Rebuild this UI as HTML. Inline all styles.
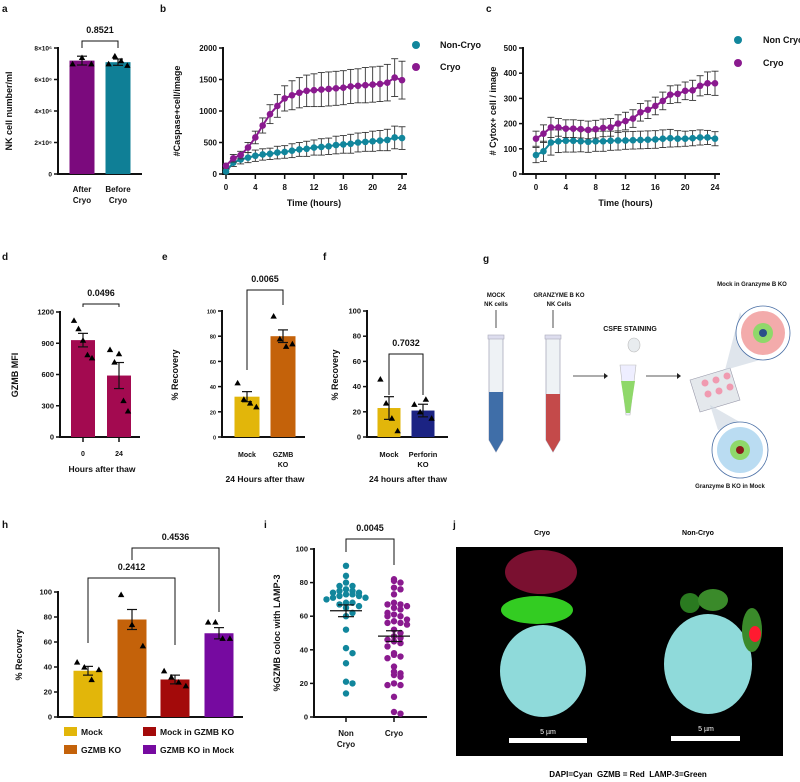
<!DOCTYPE html>
<html><head><meta charset="utf-8"><style>
html,body{margin:0;padding:0;background:#fff;}
svg{display:block;font-family:"Liberation Sans",Arial,sans-serif;font-weight:bold;}
</style></head><body>
<svg id="fig" width="800" height="782" viewBox="0 0 800 782" xmlns="http://www.w3.org/2000/svg">
<!-- panel letters -->
<g font-size="10" fill="#111">
<text x="2" y="12">a</text><text x="160" y="12">b</text><text x="486" y="12">c</text>
<text x="2" y="260">d</text><text x="162" y="260">e</text><text x="323" y="260">f</text><text x="483" y="262">g</text>
<text x="2" y="528">h</text><text x="264" y="528">i</text><text x="453" y="528">j</text>
</g>
<!-- panel g illustration -->
<g font-size="6" text-anchor="middle" fill="#111">
<text x="496" y="297">MOCK</text><text x="496" y="306">NK cells</text>
<text x="559" y="297">GRANZYME B KO</text><text x="559" y="306">NK Cells</text>
<line x1="496" y1="310" x2="496" y2="328" stroke="#222" stroke-width="0.8"/>
<line x1="553" y1="310" x2="553" y2="328" stroke="#222" stroke-width="0.8"/>
<g>
<path d="M489,338 L503,338 L503,440 L496,452 L489,440 Z" fill="#eef2f5" stroke="#aab" stroke-width="0.8"/>
<path d="M489,392 L503,392 L503,440 L496,452 L489,440 Z" fill="#3f6ea8"/>
<rect x="488" y="335" width="16" height="4" fill="#dde" stroke="#aab" stroke-width="0.6"/></g>
<g>
<path d="M546,338 L560,338 L560,440 L553,452 L546,440 Z" fill="#eef2f5" stroke="#aab" stroke-width="0.8"/>
<path d="M546,394 L560,394 L560,440 L553,452 L546,440 Z" fill="#c44a4a"/>
<rect x="545" y="335" width="16" height="4" fill="#dde" stroke="#aab" stroke-width="0.6"/></g>
<line x1="573" y1="376" x2="604" y2="376" stroke="#222" stroke-width="0.8"/><path d="M604,373 L608,376 L604,379Z" fill="#222"/>
<text x="630" y="331" font-size="7">CSFE STAINING</text>
<g>
<ellipse cx="634" cy="345" rx="6" ry="7" fill="#e8ecef" stroke="#bbb" stroke-width="0.6"/>
<path d="M620,365 L636,365 L630,415 L626,415 Z" fill="#eef" stroke="#bbb" stroke-width="0.6"/>
<path d="M621,381 L635,381 L630,413 L626,413 Z" fill="#8fd86a"/></g>
<line x1="646" y1="376" x2="677" y2="376" stroke="#222" stroke-width="0.8"/><path d="M677,373 L681,376 L677,379Z" fill="#222"/>
<g>
<path d="M690,380 L730,368 L740,400 L700,412 Z" fill="#e4e8ec" stroke="#99a" stroke-width="0.6"/>
<circle cx="705" cy="383" r="3.5" fill="#f09ab0"/><circle cx="716" cy="380" r="3.5" fill="#f09ab0"/><circle cx="727" cy="376" r="3.5" fill="#f09ab0"/>
<circle cx="708" cy="394" r="3.5" fill="#f09ab0"/><circle cx="719" cy="391" r="3.5" fill="#f09ab0"/><circle cx="730" cy="387" r="3.5" fill="#f09ab0"/></g>
<path d="M725,370 L740,312 L760,360 Z" fill="#c9d3e0" opacity="0.6"/>
<path d="M710,405 L718,430 L745,425 Z" fill="#c9d3e0" opacity="0.6"/>
<g>
<circle cx="763" cy="333" r="27" fill="#fff" stroke="#4a6fa5" stroke-width="0.8"/>
<circle cx="763" cy="333" r="22" fill="#e88" opacity="0.7"/>
<circle cx="763" cy="333" r="10" fill="#8fd86a"/><circle cx="763" cy="333" r="4" fill="#2b4f8a"/></g>
<text x="752" y="286">Mock in Granzyme B KO</text>
<g>
<circle cx="740" cy="450" r="28" fill="#fff" stroke="#4a6fa5" stroke-width="0.8"/>
<circle cx="740" cy="450" r="23" fill="#a9d3ef" opacity="0.8"/>
<circle cx="740" cy="450" r="10" fill="#8fd86a"/><circle cx="740" cy="450" r="4" fill="#8a1a1a"/></g>
<text x="730" y="488">Granzyme B KO in Mock</text>
</g>
<!-- panel j image -->
<g>
<rect x="456" y="547" width="327" height="209" fill="#000"/>
<ellipse cx="541" cy="572" rx="36" ry="22" fill="#7a1030"/>
<ellipse cx="537" cy="610" rx="36" ry="14" fill="#33cc22"/>
<ellipse cx="543" cy="671" rx="43" ry="46" fill="#8fdada"/>
<ellipse cx="708" cy="664" rx="44" ry="50" fill="#8fdada"/>
<ellipse cx="690" cy="603" rx="10" ry="10" fill="#2a7a20"/>
<ellipse cx="713" cy="600" rx="15" ry="11" fill="#3a8a2a"/>
<ellipse cx="752" cy="630" rx="10" ry="22" fill="#3a8a2a"/>
<ellipse cx="755" cy="634" rx="6" ry="8" fill="#ff1a30"/>
<rect x="509" y="738" width="78" height="5" fill="#fff"/><rect x="671" y="736" width="69" height="5" fill="#fff"/>
<text x="548" y="734" font-size="7" font-weight="normal" fill="#fff" text-anchor="middle">5 µm</text>
<text x="706" y="731" font-size="7" font-weight="normal" fill="#fff" text-anchor="middle">5 µm</text>
</g>
<text x="542" y="535" font-size="7" text-anchor="middle">Cryo</text>
<text x="698" y="535" font-size="7" text-anchor="middle">Non-Cryo</text>
<text x="628" y="777" font-size="8" text-anchor="middle">DAPI=Cyan&#160;&#160;GZMB = Red&#160;&#160;LAMP-3=Green</text>
</svg>
<script>
// ---- data ----
const hours = [0,1,2,3,4,5,6,7,8,9,10,11,12,13,14,15,16,17,18,19,20,21,22,23,24];
const bCryo = [130,250,300,420,580,770,950,1080,1200,1250,1290,1320,1330,1340,1350,1360,1370,1390,1400,1410,1420,1430,1450,1530,1490];
const bCryoErr = [40,60,60,80,100,120,150,180,200,230,240,250,260,270,270,270,270,270,270,280,280,280,290,300,300];
const bNon = [40,180,230,260,290,310,320,340,350,370,390,400,420,430,440,460,470,480,500,510,520,530,540,580,570];
const bNonErr = [30,60,70,80,90,90,90,100,100,110,110,120,120,130,130,140,140,150,150,150,160,160,170,180,180];
const cCryo = [140,160,185,185,180,180,178,175,178,183,185,200,210,220,245,255,270,290,315,318,330,332,350,360,360];
const cCryoErr = [30,35,40,35,35,35,35,35,35,35,35,35,35,35,35,35,35,35,35,35,35,40,40,45,48];
const cNon = [75,90,125,130,132,132,130,128,130,130,132,133,133,134,135,136,137,140,142,140,140,142,145,145,140];
const cNonErr = [30,40,50,45,45,45,42,42,40,40,38,38,35,35,35,35,35,35,35,32,30,30,30,28,28];
const aCats = ["After Cryo","Before Cryo"];
const aVals = [7.2e6,7.1e6];
const aErr = [0.28e6,0.2e6];
const aPts = [[7.0e6,7.4e6,7.0e6],[7.0e6,7.5e6,7.2e6,6.9e6]];
const dCats = ["0","24"];
const dVals = [930,590];
const dErr = [65,125];
const dPts = [[1120,1040,930,790,760],[840,720,800,350,250]];
const eCats = ["Mock","GZMB KO"];
const eVals = [32,80];
const eErr = [4,5];
const ePts = [[43,30,27,24],[96,78,72,74]];
const fCats = ["Mock","Perforin KO"];
const fVals = [23,21];
const fErr = [9,5];
const fPts = [[46,27,15,5],[26,20,30,15]];
const hCats = ["Mock","GZMB KO","Mock in GZMB KO","GZMB KO in Mock"];
const hVals = [37,78,30,67];
const hErr = [3.5,8,3.5,4.5];
const hPts = [[44,40,30,38],[98,74,57],[37,32,28,25],[76,76,63,63]];
const iNon = [90,84,80,78,78,76,75,75,74,74,73,73,72,72,71,71,70,68,68,67,66,65,62,60,52,41,38,32,21,20,14];
const iCryo = [82,81,80,77,76,73,68,67,67,66,65,64,62,61,60,60,58,57,56,56,55,52,50,48,47,46,45,44,42,38,37,36,35,30,27,26,25,24,20,19,19,12,3,2];
const pvals = ["0.8521","0.0496","0.0065","0.7032","0.2412","0.4536","0.0045"];

const svg = document.getElementById('fig');
const NS = 'http://www.w3.org/2000/svg';
function mk(tag, attrs, name, parent) {
  const el = document.createElementNS(NS, tag);
  for (const k in attrs) el.setAttribute(k, attrs[k]);
  
  
  (parent || svg).appendChild(el);
  return el;
}
function txt(x, y, s, size, name, anchor, extra) {
  const t = mk('text', Object.assign({x:x, y:y, 'font-size':size, 'text-anchor':anchor||'middle', fill:'#111'}, extra||{}), name);
  t.textContent = s;
  return t;
}
function lin(x1,y1,x2,y2,w,name,col){ return mk('line',{x1:x1,y1:y1,x2:x2,y2:y2,stroke:col||'#111','stroke-width':w},name); }
function tri(cx,cy,name){ return mk('path',{d:`M${cx-3.2},${cy+2.6} L${cx+3.2},${cy+2.6} L${cx},${cy-3}Z`,fill:'#000'},name); }
function yaxis(ax, y0, y1, max, ticks, labels, fs, name, xEnd) {
  const sc = v => y0 - (v/max)*(y0-y1);
  lin(ax, y0+1, ax, y1-1, 2, name+'-y-axis');
  lin(ax-1, y0, xEnd, y0, 2, name+'-x-axis');
  ticks.forEach((v,i)=>{
    lin(ax-4, sc(v), ax, sc(v), 1.5, name+'-y-tick');
    txt(ax-6, sc(v)+2.5, labels[i], fs, name+'-y-tick-label', 'end');
  });
  return sc;
}
function bars(sc, y0, xs, w, vals, errs, pts, cols, name) {
  vals.forEach((v,i)=>{
    const cx = xs[i];
    mk('rect',{x:cx-w/2,y:sc(v),width:w,height:y0-sc(v),fill:cols[i]},name+'-bar-'+i);
    lin(cx, sc(v+errs[i]), cx, sc(v-errs[i]), 1.2, name+'-error-bar');
    lin(cx-5, sc(v+errs[i]), cx+5, sc(v+errs[i]), 1.2, name+'-error-cap');
    lin(cx-5, sc(v-errs[i]), cx+5, sc(v-errs[i]), 1.2, name+'-error-cap');
    const n = pts[i].length;
    pts[i].forEach((p,j)=>{ tri(cx + (n>1 ? (j/(n-1)-0.5)*w*0.75 : 0), sc(p), name+'-point'); });
  });
}
function bracket(x1, y1a, x2, y2a, top, label, name) {
  mk('path',{d:`M${x1},${y1a} L${x1},${top} L${x2},${top} L${x2},${y2a}`,fill:'none',stroke:'#111','stroke-width':1},name+'-bracket');
  txt((x1+x2)/2, top-8, label, 9, name+'-p-value');
}
function rotTitle(x, y, s, name, fs) {
  txt(x, y, s, fs||9, name, 'middle', {transform:`rotate(-90 ${x} ${y})`});
}

// ---- panel a ----
(function(){
  const ax=58, y0=174, y1=48;
  const sc = yaxis(ax,y0,y1,8e6,[0,2e6,4e6,6e6,8e6],['0','2×10⁶','4×10⁶','6×10⁶','8×10⁶'],6.5,'panel-a',142);
  bars(sc,y0,[82,118],25,aVals,aErr,aPts,['#7b0a7d','#0f7f96'],'panel-a');
  aCats.forEach((c,i)=>{ const p=c.split(' '); txt([82,118][i],192,p[0],8,'panel-a-x-label'); txt([82,118][i],203,p[1],8,'panel-a-x-label'); });
  rotTitle(12,111,'NK cell number/ml','panel-a-y-title');
  bracket(82,48,118,48,41,pvals[0],'panel-a');
})();

// ---- line panels ----
function linePanel(ax, x0, x24, y0, y1, max, tickStep, series, name, ytitle, ytx) {
  const sx = h => x0 + (h/24)*(x24-x0);
  const sy = v => y0 - (v/max)*(y0-y1);
  lin(ax, y0+1, ax, y1-1, 2, name+'-y-axis');
  lin(ax-1, y0, x24+5, y0, 2, name+'-x-axis');
  for (let v=0; v<=max; v+=tickStep){ lin(ax-4,sy(v),ax,sy(v),1.5,name+'-y-tick'); txt(ax-6,sy(v)+3,String(v),8,name+'-y-tick-label','end'); }
  for (let h=0; h<=24; h+=4){ lin(sx(h),y0,sx(h),y0+5,1.5,name+'-x-tick'); txt(sx(h),y0+16,String(h),8,name+'-x-tick-label'); }
  txt((x0+x24)/2, y0+32, 'Time (hours)', 9, name+'-x-title');
  rotTitle(ytx, (y0+y1)/2, ytitle, name+'-y-title');
  series.forEach(s=>{
    s.v.forEach((v,i)=>{
      const x=sx(hours[i]);
      lin(x,sy(v+s.e[i]),x,sy(Math.max(0,v-s.e[i])),0.9,name+'-error-bar','#333');
      lin(x-3.5,sy(v+s.e[i]),x+3.5,sy(v+s.e[i]),0.9,name+'-error-cap','#333');
      lin(x-3.5,sy(Math.max(0,v-s.e[i])),x+3.5,sy(Math.max(0,v-s.e[i])),0.9,name+'-error-cap','#333');
    });
    mk('polyline',{points:s.v.map((v,i)=>sx(hours[i])+','+sy(v)).join(' '),fill:'none',stroke:s.c,'stroke-width':2},name+'-line-'+s.n);
    s.v.forEach((v,i)=>{ mk('circle',{cx:sx(hours[i]),cy:sy(v),r:3.3,fill:s.c},name+'-point-'+s.n); });
  });
}
linePanel(223,226,402,174,48,2000,500,[{v:bNon,e:bNonErr,c:'#11869c',n:'non-cryo'},{v:bCryo,e:bCryoErr,c:'#8a1a8f',n:'cryo'}],'panel-b','#Caspase+cell/image',180);
mk('circle',{cx:416,cy:45,r:4,fill:'#11869c'},'panel-b-legend-non-cryo-marker');
txt(440,48,'Non-Cryo',9,'panel-b-legend-non-cryo','start');
mk('circle',{cx:416,cy:67,r:4,fill:'#8a1a8f'},'panel-b-legend-cryo-marker');
txt(440,70,'Cryo',9,'panel-b-legend-cryo','start');
linePanel(523,536,715,174,48,500,100,[{v:cNon,e:cNonErr,c:'#11869c',n:'non-cryo'},{v:cCryo,e:cCryoErr,c:'#8a1a8f',n:'cryo'}],'panel-c','# Cytox+ cell / image',496);
mk('circle',{cx:738,cy:40,r:4,fill:'#11869c'},'panel-c-legend-non-cryo-marker');
txt(763,43,'Non Cryo',9,'panel-c-legend-non-cryo','start');
mk('circle',{cx:738,cy:63,r:4,fill:'#8a1a8f'},'panel-c-legend-cryo-marker');
txt(763,66,'Cryo',9,'panel-c-legend-cryo','start');

// ---- panel d ----
(function(){
  const ax=60,y0=437,y1=312;
  const sc=yaxis(ax,y0,y1,1200,[0,300,600,900,1200],['0','300','600','900','1200'],7.5,'panel-d',140);
  bars(sc,y0,[83,119],24,dVals,dErr,dPts,['#a30a50','#a30a50'],'panel-d');
  lin(83,y0,83,y0+5,1.5,'panel-d-x-tick'); lin(119,y0,119,y0+5,1.5,'panel-d-x-tick');
  dCats.forEach((c,i)=>txt([83,119][i],456,c,7,'panel-d-x-label'));
  txt(102,472,'Hours after thaw',8.5,'panel-d-x-title');
  rotTitle(18,375,'GZMB  MFI','panel-d-y-title');
  bracket(83,307,119,307,304,pvals[1],'panel-d');
  mk('path',{d:'M83,304 L83,307'},'x');
})();
// ---- panel e ----
(function(){
  const ax=222,y0=437,y1=311;
  const sc=yaxis(ax,y0,y1,100,[0,20,40,60,80,100],['0','20','40','60','80','100'],5.5,'panel-e',305);
  bars(sc,y0,[247,283],25,eVals,eErr,ePts,['#e2b60a','#c4620a'],'panel-e');
  txt(247,457,'Mock',7,'panel-e-x-label'); txt(283,457,'GZMB',7,'panel-e-x-label'); txt(283,467,'KO',7,'panel-e-x-label');
  txt(265,482,'24 Hours after thaw',8.5,'panel-e-x-title');
  rotTitle(178,375,'% Recovery','panel-e-y-title');
  bracket(247,370,283,305,290,pvals[2],'panel-e');
})();
// ---- panel f ----
(function(){
  const ax=367,y0=437,y1=311;
  const sc=yaxis(ax,y0,y1,100,[0,20,40,60,80,100],['0','20','40','60','80','100'],7.5,'panel-f',448);
  bars(sc,y0,[389,423],23,fVals,fErr,fPts,['#e2b60a','#1b2383'],'panel-f');
  txt(389,457,'Mock',7.5,'panel-f-x-label'); txt(423,457,'Perforin',7.5,'panel-f-x-label'); txt(423,467,'KO',7.5,'panel-f-x-label');
  txt(408,482,'24 hours after thaw',8.5,'panel-f-x-title');
  rotTitle(338,375,'% Recovery','panel-f-y-title');
  bracket(389,395,423,395,354,pvals[3],'panel-f');
})();
// ---- panel h ----
(function(){
  const ax=58,y0=717,y1=592;
  const sc=yaxis(ax,y0,y1,100,[0,20,40,60,80,100],['0','20','40','60','80','100'],7.5,'panel-h',243);
  const xs=[88,132,175,219], cols=['#e2b60a','#c4620a','#a30a0a','#760aa0'];
  bars(sc,y0,xs,29,hVals,hErr,hPts,cols,'panel-h');
  rotTitle(22,655,'% Recovery','panel-h-y-title');
  bracket(88,643,175,645,578,pvals[4],'panel-h');
  bracket(132,560,219,612,548,pvals[5],'panel-h');
  const lx=[64,64,143,143], ly=[728,746,728,746];
  hCats.forEach((c,i)=>{
    mk('rect',{x:lx[i],y:ly[i]-1,width:13,height:9,fill:cols[i]},'panel-h-legend-swatch');
    txt(lx[i]+17,ly[i]+7,c,8.5,'panel-h-legend-label','start');
  });
})();
// ---- panel i ----
(function(){
  const ax=314,y0=717,y1=549;
  const sc=yaxis(ax,y0,y1,100,[0,20,40,60,80,100],['0','20','40','60','80','100'],7.5,'panel-i',427);
  rotTitle(280,633,'%GZMB coloc with LAMP-3','panel-i-y-title');
  function swarm(vals,cx,col,name){
    const bins={};
    vals.forEach(v=>{ const b=Math.round(v/4); bins[b]=(bins[b]||0)+1; const k=bins[b]-1;
      const off = k===0?0:(k%2? 1:-1)*Math.ceil(k/2)*6.5;
      mk('circle',{cx:cx+off,cy:sc(v),r:3.2,fill:col},name); });
    const m=vals.reduce((a,b)=>a+b,0)/vals.length;
    let sd=Math.sqrt(vals.reduce((a,b)=>a+(b-m)*(b-m),0)/(vals.length-1))/Math.sqrt(vals.length);
    lin(cx-16,sc(m),cx+16,sc(m),1.3,name+'-mean');
    lin(cx,sc(m+sd),cx,sc(m-sd),1.2,name+'-sem');
    lin(cx-8,sc(m+sd),cx+8,sc(m+sd),1.2,name+'-sem-cap');
    lin(cx-8,sc(m-sd),cx+8,sc(m-sd),1.2,name+'-sem-cap');
  }
  swarm(iNon,346,'#11869c','panel-i-non-cryo-point');
  swarm(iCryo,394,'#8a1a8f','panel-i-cryo-point');
  lin(346,y0,346,y0+5,1.5,'panel-i-x-tick'); lin(394,y0,394,y0+5,1.5,'panel-i-x-tick');
  txt(346,736,'Non',8,'panel-i-x-label'); txt(346,747,'Cryo',8,'panel-i-x-label'); txt(394,736,'Cryo',8,'panel-i-x-label');
  bracket(346,552,394,565,539,pvals[6],'panel-i');
})();
</script>
</body></html>
